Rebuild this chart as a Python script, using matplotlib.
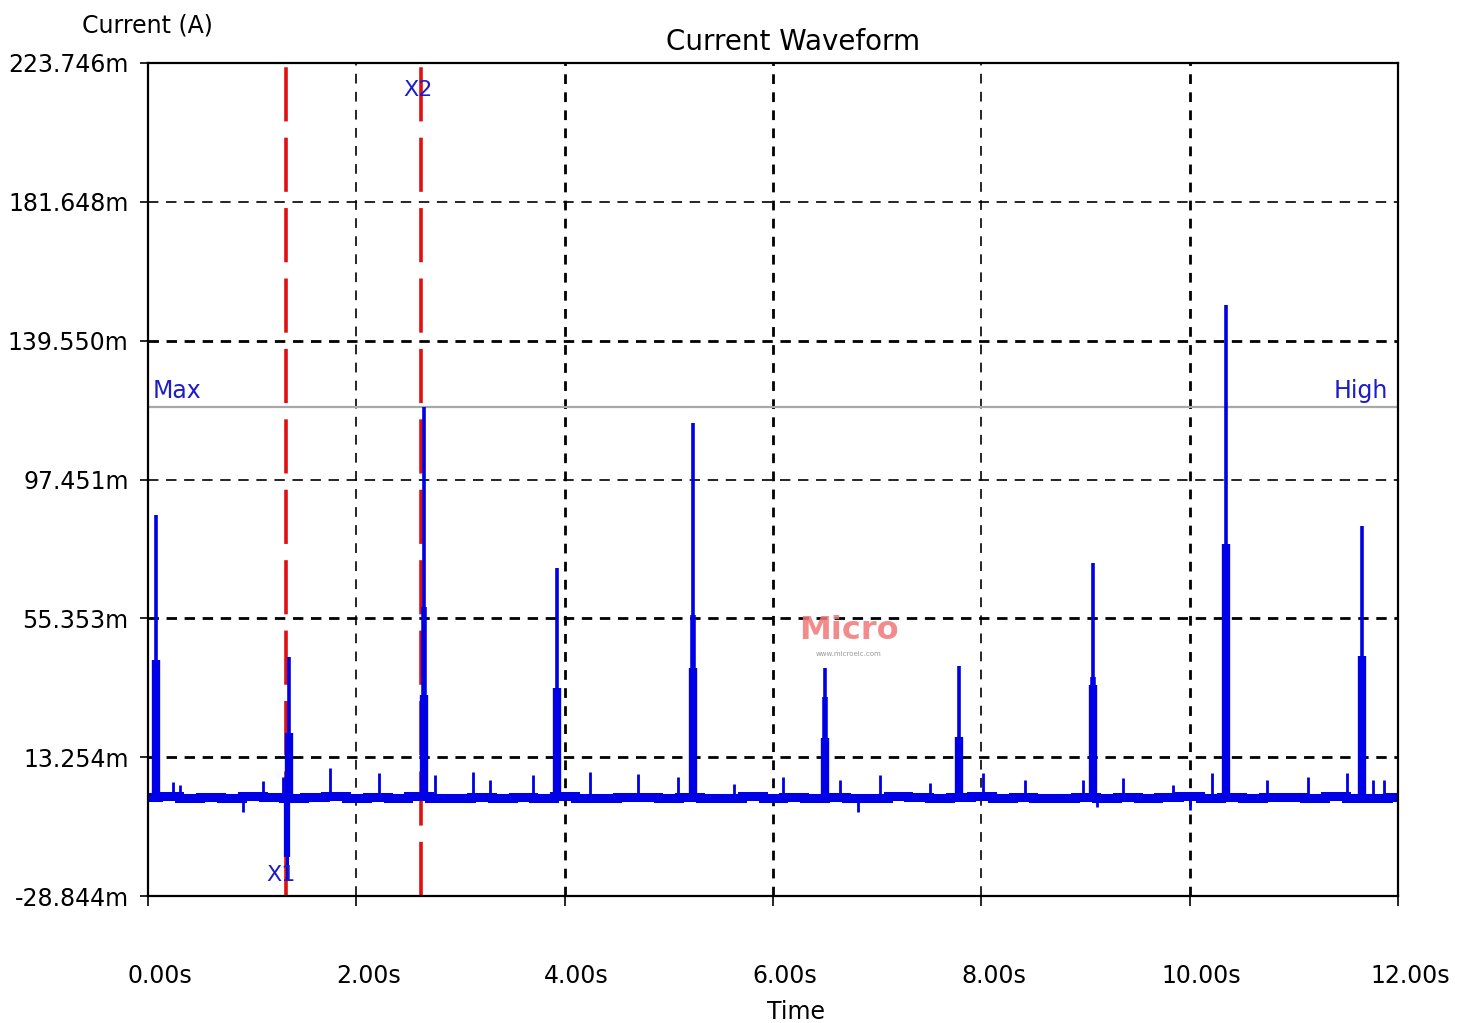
import matplotlib
matplotlib.use("Agg")
import matplotlib.pyplot as plt
import matplotlib.transforms as mtransforms

# axis range (values in mA -> labelled with "m")
y_min, y_max = -28.844, 223.746
y_ticks = [-28.844, 13.254, 55.353, 97.451, 139.550, 181.648, 223.746]
y_tick_labels = ["-28.844m", "13.254m", "55.353m", "97.451m", "139.550m", "181.648m", "223.746m"]
x_ticks = [0, 2, 4, 6, 8, 10, 12]
x_tick_labels = ["0.00s", "2.00s", "4.00s", "6.00s", "8.00s", "10.00s", "12.00s"]

# main current pulses (time in s, levels in mA)
spike_t = [0.08, 1.35, 2.65, 3.93, 5.23, 6.50, 7.79, 9.07, 10.35, 11.65]
spike_peak = [86.7, 43.6, 119.4, 70.6, 114.6, 40.3, 40.9, 72.2, 150.4, 83.5]
spike_mid = [42.7, 20.6, 58.8, 34.2, 56.4, 31.5, 19.4, 37.6, 78.0, 44.0]
spike_low = [42.7, 20.6, 32.1, 34.2, 40.3, 19.1, 19.4, 35.1, 78.0, 44.0]

# negative dip at cursor X1
dip_t = [1.33]
dip_deep = [-24.0]
dip_wide = [-17.0]

# small blips on the baseline
blip_t = [0.24, 0.31, 0.91, 1.10, 1.30, 1.75, 2.22, 2.76, 3.12, 3.28, 3.70,
          4.24, 4.70, 5.09, 5.63, 6.10, 6.64, 6.82, 7.03, 7.51, 8.02, 8.42,
          8.98, 9.11, 9.36, 9.84, 10.00, 10.21, 10.74, 11.14, 11.51, 11.76, 11.87]
blip_v = [5.7, 4.8, -3.4, 6.0, 7.2, 10.0, 8.5, 7.9, 8.8, 6.3, 7.9,
          8.8, 8.2, 7.2, 5.1, 7.2, 6.3, -3.4, 7.9, 5.4, 8.5, 6.3,
          6.3, -1.9, 6.9, 4.8, -2.8, 8.5, 6.3, 7.2, 8.5, 6.3, 6.3]

# baseline samples, every 0.2 s
base_t = [i * 0.2 for i in range(61)]
base_v = [1.3, 1.6, 1.0, 1.2, 0.9, 1.5, 1.1, 0.8, 1.3, 1.5, 1.0, 1.2, 0.8,
          1.4, 1.0, 0.8, 1.3, 1.0, 1.2, 0.9, 1.4, 1.0, 0.8, 1.2, 1.1, 0.9,
          1.3, 0.8, 1.0, 1.5, 1.0, 1.2, 0.8, 1.3, 1.0, 0.9, 1.4, 1.2, 0.8,
          1.1, 1.5, 0.9, 1.2, 1.0, 0.8, 1.3, 1.0, 1.2, 0.9, 1.2, 1.5, 1.0,
          1.1, 0.8, 1.3, 1.2, 0.9, 1.4, 1.0, 0.9, 1.2]

max_level = 119.4
cursor_x1 = 1.325
cursor_x2 = 2.62

blue = "#0000e6"
label_blue = "#1c1cc8"

fig = plt.figure(figsize=(14.7, 10.23), dpi=100)
ax = fig.add_axes([148 / 1470, 1 - 896 / 1023, 1250 / 1470, 833 / 1023])
ax.set_xlim(0, 12)
ax.set_ylim(y_min, y_max)

# grid: mix of thin and heavy dashed lines like the original scope view
h_heavy = [139.550, 55.353, 13.254]
for yv in y_ticks[1:-1]:
    lw = 2.0 if yv in h_heavy else 1.2
    ax.axhline(yv, color="black", lw=lw, ls=(0, (7.5 / lw, 5.5 / lw)), zorder=1)
v_heavy = [4, 6, 10]
for xv in x_ticks[1:-1]:
    lw = 2.0 if xv in v_heavy else 1.2
    ax.axvline(xv, color="black", lw=lw, ls=(0, (7.0 / lw, 6.0 / lw)), zorder=1)

# Max / High reference line
ax.axhline(max_level, color="#a8a8a8", lw=1.6, zorder=2)
ax.text(0.04, max_level + 1.2, "Max", color=label_blue, fontsize=17,
        ha="left", va="bottom", zorder=6)
ax.text(11.9, max_level + 1.2, "High", color=label_blue, fontsize=17,
        ha="right", va="bottom", zorder=6)

# cursors
for cx in (cursor_x1, cursor_x2):
    ax.axvline(cx, color="#e01010", lw=2.6, ls=(0, (15, 4.5)), zorder=3)
ax.text(cursor_x2 - 0.03, 215.5, "X2", color=label_blue, fontsize=16,
        ha="center", va="center", zorder=6)
ax.text(cursor_x1 - 0.05, -22.5, "X1", color=label_blue, fontsize=16,
        ha="center", va="center", zorder=6)

# waveform
ax.plot(base_t, base_v, color=blue, lw=6.5, drawstyle="steps-mid",
        solid_joinstyle="miter", zorder=4)
ax.vlines(blip_t, 1.0, blip_v, color=blue, lw=2.0, zorder=4)
ax.vlines(spike_t, 1.0, spike_peak, color=blue, lw=2.6, zorder=5)
ax.vlines(spike_t, 1.0, spike_mid, color=blue, lw=4.0, zorder=5)
ax.vlines(spike_t, 1.0, spike_low, color=blue, lw=6.0, zorder=5)
ax.vlines(dip_t, 1.0, dip_deep, color=blue, lw=2.2, zorder=5)
ax.vlines(dip_t, 1.0, dip_wide, color=blue, lw=4.5, zorder=5)

# watermark
ax.text(6.73, 51.8, "Micro", color="#f07878", fontsize=23, fontweight="bold",
        ha="center", va="center", alpha=0.85, zorder=6)
ax.text(6.73, 44.5, "www.microelc.com", color="#999999", fontsize=5,
        ha="center", va="center", zorder=6)

# ticks and labels
ax.set_yticks(y_ticks)
ax.set_yticklabels(y_tick_labels, fontsize=17)
ax.set_xticks(x_ticks)
ax.set_xticklabels(x_tick_labels, fontsize=17)
ax.tick_params(axis="y", direction="out", length=6, width=1.2, pad=8)
ax.tick_params(axis="x", direction="out", length=7, width=1.2, pad=42)
offset = mtransforms.ScaledTranslation(12 / 100, 0, fig.dpi_scale_trans)
for lab in ax.get_xticklabels():
    lab.set_transform(lab.get_transform() + offset)

for sp in ax.spines.values():
    sp.set_linewidth(1.6)
    sp.set_zorder(7)

fig.text(793 / 1470, 1 - 42 / 1023, "Current Waveform", fontsize=20,
         ha="center", va="center")
fig.text(147 / 1470, 1 - 25 / 1023, "Current (A)", fontsize=17,
         ha="center", va="center")
fig.text(796 / 1470, 1 - 1012 / 1023, "Time", fontsize=17,
         ha="center", va="center")

fig.savefig("out.png", dpi=100)
